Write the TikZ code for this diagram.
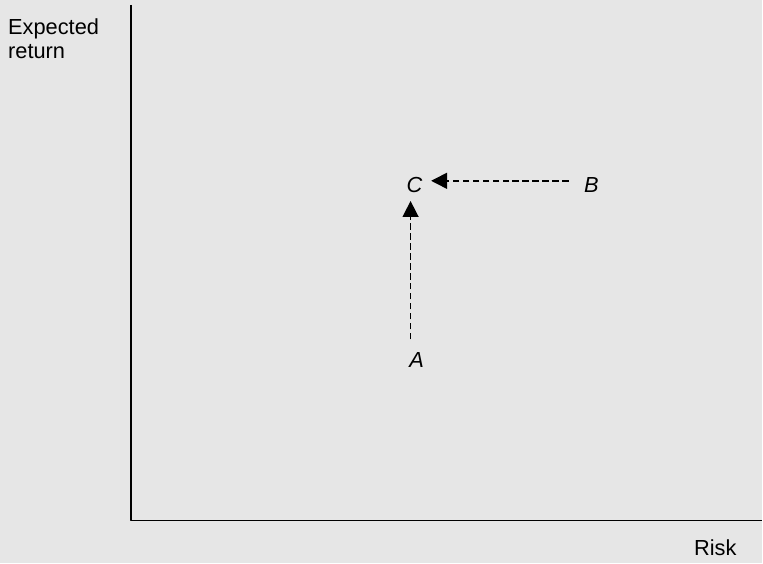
\documentclass[tikz,border=0pt]{standalone}
\usepackage{fontspec}
\setmainfont{Liberation Sans}
\usetikzlibrary{arrows.meta}
\definecolor{bggray}{HTML}{E6E6E6}
\begin{document}
\begin{tikzpicture}[x=1pt,y=-1pt,line join=round,font=\fontsize{21.8}{24}\selectfont,
	arr/.style={-{Triangle[length=16pt,width=16pt]},dash pattern=on 6.5pt off 3.5pt,line width=1.5pt},
	pt/.style={inner sep=4pt,font=\fontsize{21.8}{24}\selectfont\itshape}]
	\fill[bggray] (0,0) rectangle (763,564);
	\draw[line width=1.6pt] (131,5) -- (131,521) -- (763,521);
	\node[anchor=north west,align=left,inner sep=0pt] (ylab) at (8,18.5) {Expected\\return};
	\node[anchor=base] (xlab) at (716,556) {Risk};
	\node[pt] (C) at (415,185) {C};
	\node[pt] (B) at (592,185) {B};
	\node[pt] (A) at (417,360) {A};
	\draw[arr,shorten <=11pt,shorten >=4.5pt] ([yshift=4pt]B.west) -- ([yshift=4pt]C.east);
	\draw[arr,shorten <=8.5pt,shorten >=4.3pt] ([xshift=-6pt]A.north) -- ([xshift=-4pt]C.south);
\end{tikzpicture}
\end{document}
